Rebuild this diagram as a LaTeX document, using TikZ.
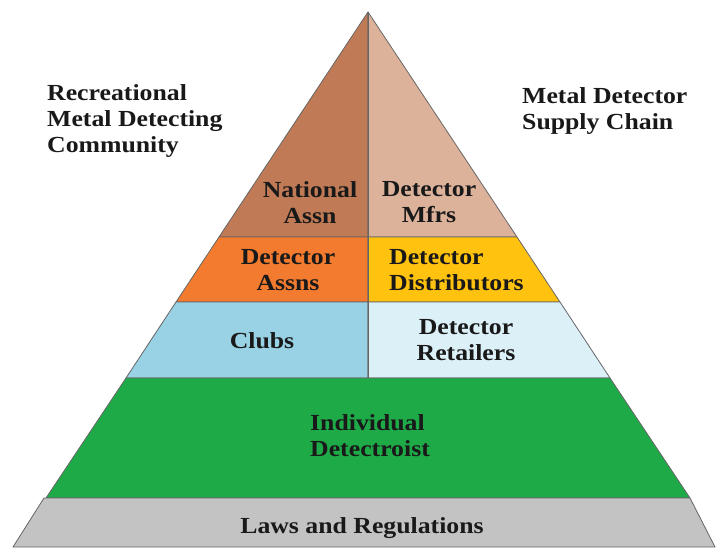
\documentclass[tikz,border=0pt]{standalone}
\usepackage{fontspec}
\setmainfont{Liberation Serif}[FakeStretch=1.12]
\definecolor{brunG}{HTML}{C07A55}
\definecolor{brunD}{HTML}{DDB29B}
\definecolor{orangeG}{HTML}{F37B2F}
\definecolor{jauneD}{HTML}{FFC20E}
\definecolor{bleuG}{HTML}{98D2E4}
\definecolor{bleuD}{HTML}{DCF0F8}
\definecolor{vert}{HTML}{1FAA48}
\definecolor{gris}{HTML}{C3C3C3}

\begin{document}
\begin{tikzpicture}[x=1pt,y=-1pt]
\tikzset{etiq/.style={font=\fontsize{23}{26}\selectfont\bfseries, text=black!90, inner sep=0pt, align=center, anchor=north},
tranche/.style={draw=black!60, line width=0.8pt, line join=round}}
\useasboundingbox (0,0) rectangle (717,556);
\fill[white] (0,0) rectangle (717,556);
\filldraw[tranche, fill=brunG] (368,12) -- (219,237) -- (368,237) -- cycle;
\filldraw[tranche, fill=brunD] (368,12) -- (517,237) -- (368,237) -- cycle;
\filldraw[tranche, fill=orangeG] (219,237) -- (368,237) -- (368,302) -- (176,302) -- cycle;
\filldraw[tranche, fill=jauneD] (368,237) -- (517,237) -- (560,302) -- (368,302) -- cycle;
\filldraw[tranche, fill=bleuG] (176,302) -- (368,302) -- (368,378) -- (126,378) -- cycle;
\filldraw[tranche, fill=bleuD] (368,302) -- (560,302) -- (610,378) -- (368,378) -- cycle;
\filldraw[tranche, fill=vert] (126,378) -- (610,378) -- (690,498) -- (46,498) -- cycle;
\filldraw[tranche, fill=gris] (44,498) -- (690,498) -- (715,547) -- (13,547) -- cycle;
\coordinate (sommet) at (368,12);
\coordinate (pied) at (368,378);
\draw[black!60, line width=1pt] (sommet) -- (pied);
\node[etiq] (nat) at (310,181.5) {National\\Assn};
\node[etiq] (mfr) at (429,181.5) {Detector\\Mfrs};
\node[etiq] (dassn) at (288,249.5) {Detector\\Assns};
\node[etiq, align=left, anchor=north west] (distr) at (389,249.5) {Detector\\Distributors};
\node[etiq] (clubs) at (262,332.5) {Clubs};
\node[etiq] (retail) at (466,319.5) {Detector\\Retailers};
\node[etiq, align=left, anchor=north west] (indiv) at (310,414.5) {Individual\\Detectroist};
\node[etiq] (laws) at (362,517.5) {Laws and Regulations};
\node[etiq, align=left, anchor=north west] (comm) at (47,84.5) {Recreational\\Metal Detecting\\Community};
\node[etiq, align=left, anchor=north west] (chain) at (522,87.5) {Metal Detector\\Supply Chain};
\end{tikzpicture}
\end{document}
